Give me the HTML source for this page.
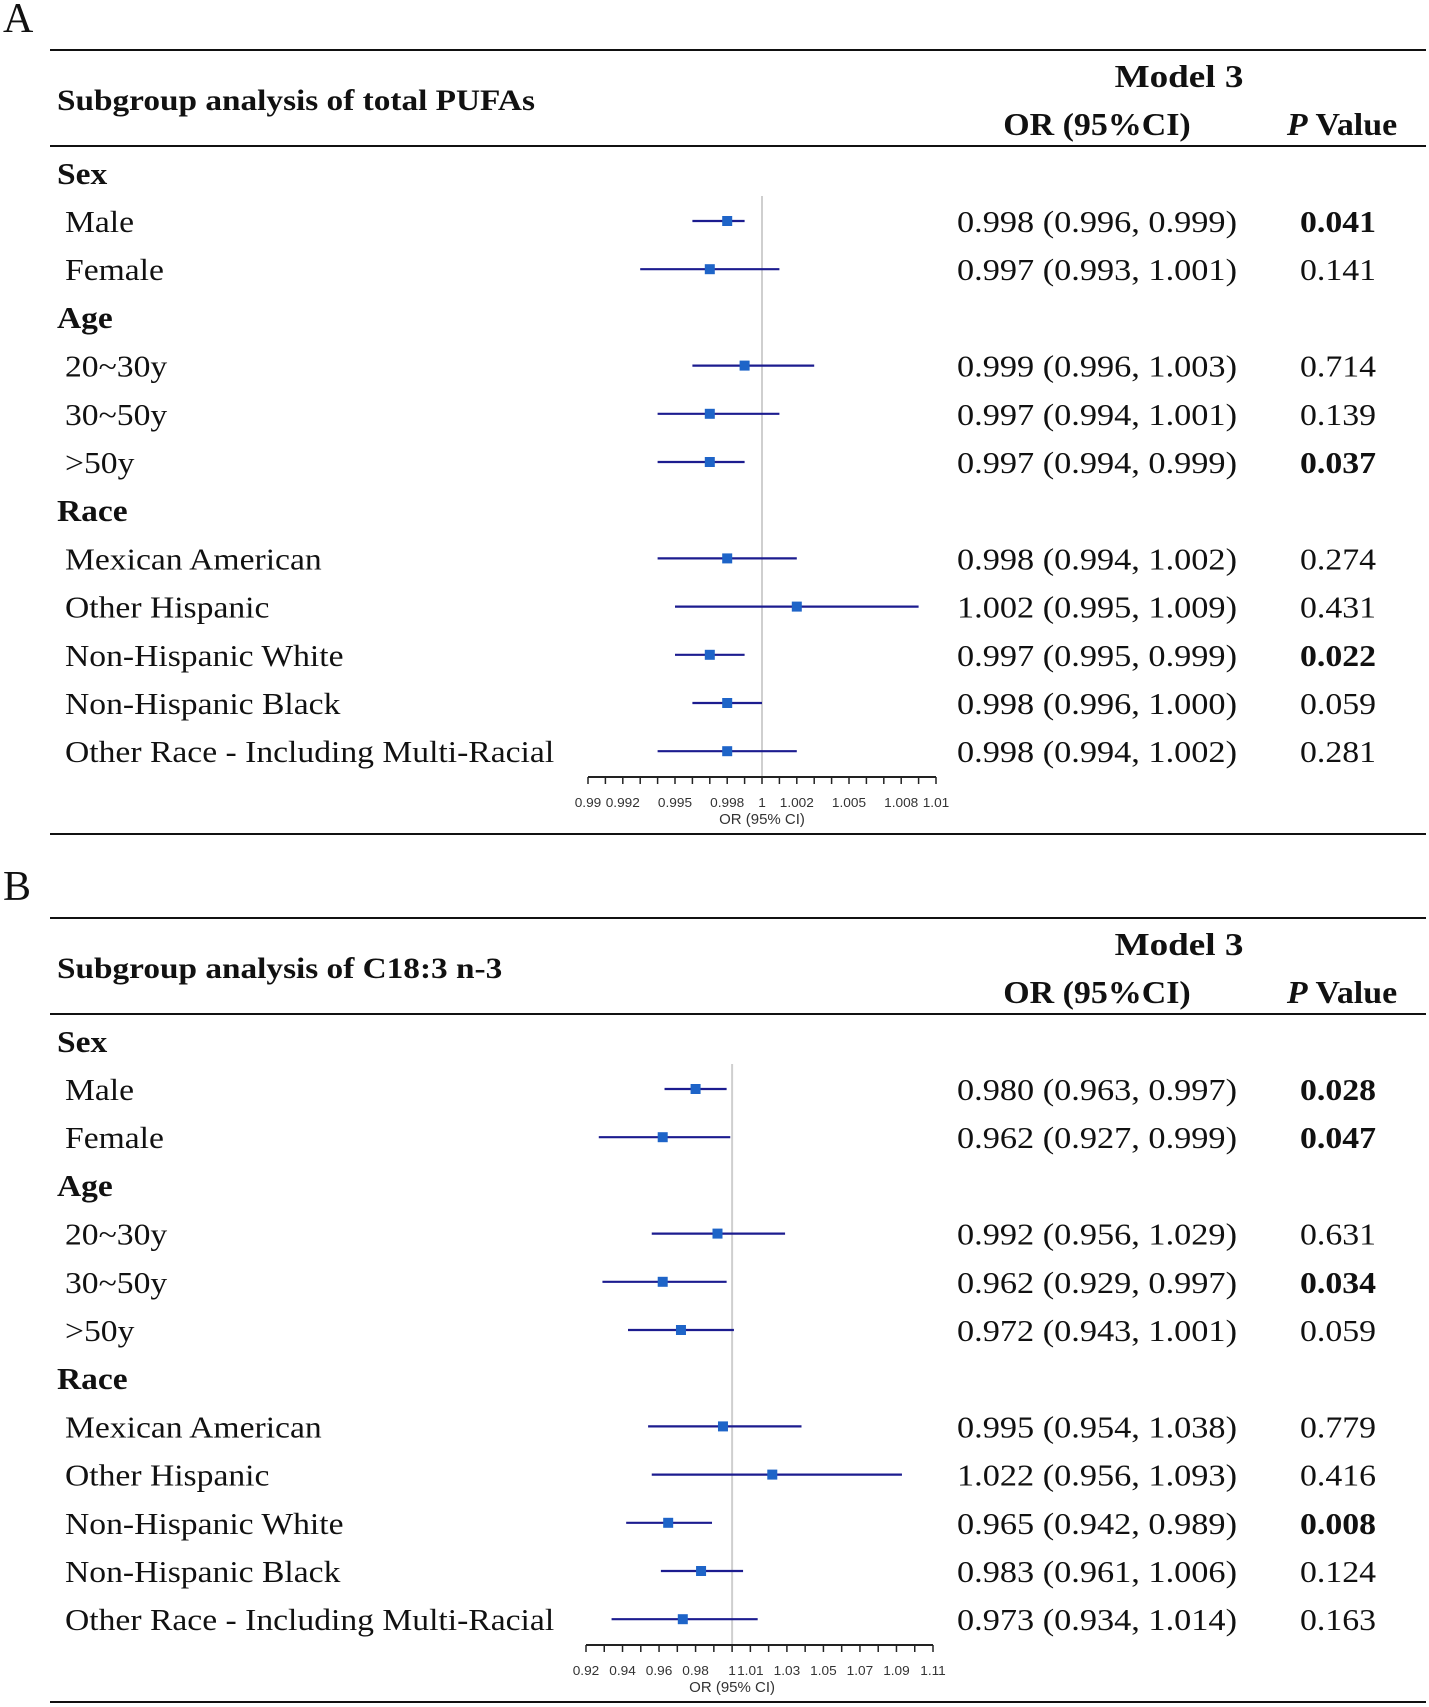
<!DOCTYPE html>
<html><head><meta charset="utf-8"><style>
body{margin:0;background:#fff}
svg{display:block}
text{font-family:"Liberation Serif",serif;fill:#111}
.ax{font-family:"Liberation Sans",sans-serif;fill:#333}
</style></head><body>
<svg id="fig" width="1429" height="1707" viewBox="0 0 1429 1707" xmlns="http://www.w3.org/2000/svg"></svg>
<script>
// Panel A data
const labelsA = ["Male","Female","20~30y","30~50y",">50y","Mexican American","Other Hispanic","Non-Hispanic White","Non-Hispanic Black","Other Race - Including Multi-Racial"];
const orA = [0.998,0.997,0.999,0.997,0.997,0.998,1.002,0.997,0.998,0.998];
const loA = [0.996,0.993,0.996,0.994,0.994,0.994,0.995,0.995,0.996,0.994];
const hiA = [0.999,1.001,1.003,1.001,0.999,1.002,1.009,0.999,1.000,1.002];
const pA = ["0.041","0.141","0.714","0.139","0.037","0.274","0.431","0.022","0.059","0.281"];
const ticksA = [0.99,0.992,0.995,0.998,1,1.002,1.005,1.008,1.01];
// Panel B data
const orB = [0.980,0.962,0.992,0.962,0.972,0.995,1.022,0.965,0.983,0.973];
const loB = [0.963,0.927,0.956,0.929,0.943,0.954,0.956,0.942,0.961,0.934];
const hiB = [0.997,0.999,1.029,0.997,1.001,1.038,1.093,0.989,1.006,1.014];
const pB = ["0.028","0.047","0.631","0.034","0.059","0.779","0.416","0.008","0.124","0.163"];
const ticksB = [0.92,0.94,0.96,0.98,1,1.01,1.03,1.05,1.07,1.09,1.11];

const NS="http://www.w3.org/2000/svg";
const svg=document.getElementById('fig');
function mk(tag,attrs,txt){const e=document.createElementNS(NS,tag);for(const k in attrs)e.setAttribute(k,attrs[k]);if(txt!==undefined)e.textContent=txt;svg.appendChild(e);return e;}
function sx(x,s){return 'translate('+x+',0) scale('+s+',1) translate('+(-x)+',0)';}
function fmt(v){return v.toFixed(3);}

function panel(o){
  const y0=o.y0;
  let e;
  e=mk('text',{x:3,y:y0+32,'font-size':42},o.letter);
  
  
  e=mk('line',{x1:50,x2:1426,y1:y0+50,y2:y0+50,stroke:'#111','stroke-width':2});
  
  
  e=mk('line',{x1:50,x2:1426,y1:y0+146,y2:y0+146,stroke:'#111','stroke-width':2});
  
  
  e=mk('line',{x1:50,x2:1426,y1:y0+834,y2:y0+834,stroke:'#111','stroke-width':2});
  
  
  e=mk('text',{x:57,y:y0+110,'font-size':30,'font-weight':'bold',transform:sx(57,1.11)},o.title);
  
  
  e=mk('text',{x:1179,y:y0+87,'font-size':32,'font-weight':'bold','text-anchor':'middle',transform:sx(1179,1.16)},'Model 3');
  
  
  e=mk('text',{x:1097,y:y0+135,'font-size':32,'font-weight':'bold','text-anchor':'middle',transform:sx(1097,1.06)},'OR (95%CI)');
  
  
  e=mk('text',{x:1342,y:y0+135,'font-size':32,'font-weight':'bold','text-anchor':'middle',transform:sx(1342,1.06)});
  
  
  const ti=document.createElementNS(NS,'tspan');ti.setAttribute('font-style','italic');ti.textContent='P';e.appendChild(ti);
  e.appendChild(document.createTextNode(' Value'));

  const rowY=i=>y0+221+48.2*(i+ (i>=2?1:0) + (i>=5?1:0));
  const gy=[y0+173,y0+317,y0+510];
  ["Sex","Age","Race"].forEach((g,k)=>{
    e=mk('text',{x:57,y:gy[k]+11,'font-size':31,'font-weight':'bold',transform:sx(57,1.08)},g);
    
    
  });
  const X=v=>o.xl+(v-o.vmin)/(o.vmax-o.vmin)*(o.xr-o.xl);
  e=mk('line',{x1:X(1),x2:X(1),y1:y0+196,y2:o.axY,stroke:'#cfcfcf','stroke-width':2});
  
  
  for(let i=0;i<labelsA.length;i++){
    const y=rowY(i);
    e=mk('text',{x:65,y:y+11,'font-size':31,transform:sx(65,1.085)},labelsA[i]);
    
    
    e=mk('line',{x1:X(o.lo[i]),x2:X(o.hi[i]),y1:y,y2:y,stroke:'#1c1c8f','stroke-width':2.2});
    
    
    e=mk('rect',{x:X(o.or[i])-5,y:y-5,width:10,height:10,fill:'#1e64c8'});
    
    
    e=mk('text',{x:957,y:y+11,'font-size':31,textLength:280,lengthAdjust:'spacingAndGlyphs'},fmt(o.or[i])+' ('+fmt(o.lo[i])+', '+fmt(o.hi[i])+')');
    
    
    const bold=parseFloat(o.p[i])<0.05;
    e=mk('text',{x:1300,y:y+11,'font-size':31,'font-weight':bold?'bold':'normal',textLength:76,lengthAdjust:'spacingAndGlyphs'},o.p[i]);
    
    
  }
  e=mk('line',{x1:o.xl,x2:o.xr,y1:o.axY,y2:o.axY,stroke:'#222','stroke-width':2});
  
  
  for(let k=0;k<=o.nMinor;k++){
    const v=o.vmin+k*(o.vmax-o.vmin)/o.nMinor;
    e=mk('line',{x1:X(v),x2:X(v),y1:o.axY,y2:o.axY+7,stroke:'#222','stroke-width':1.5});
    
    
  }
  o.ticks.forEach(t=>{
    e=mk('text',{x:X(t),y:o.axY+30,'font-size':13,'text-anchor':'middle','class':'ax',transform:sx(X(t),1.05)},String(t));
    
    
  });
  e=mk('text',{x:X(1),y:o.axY+47,'font-size':15,'text-anchor':'middle','class':'ax'},'OR (95% CI)');
  
  
}
panel({letter:'A',y0:0,title:'Subgroup analysis of total PUFAs',or:orA,lo:loA,hi:hiA,p:pA,ticks:ticksA,xl:588,xr:936,vmin:0.99,vmax:1.01,nMinor:20,axY:777});
panel({letter:'B',y0:868,title:'Subgroup analysis of C18:3 n-3',or:orB,lo:loB,hi:hiB,p:pB,ticks:ticksB,xl:586,xr:933,vmin:0.92,vmax:1.11,nMinor:19,axY:1645});
</script>
</body></html>
